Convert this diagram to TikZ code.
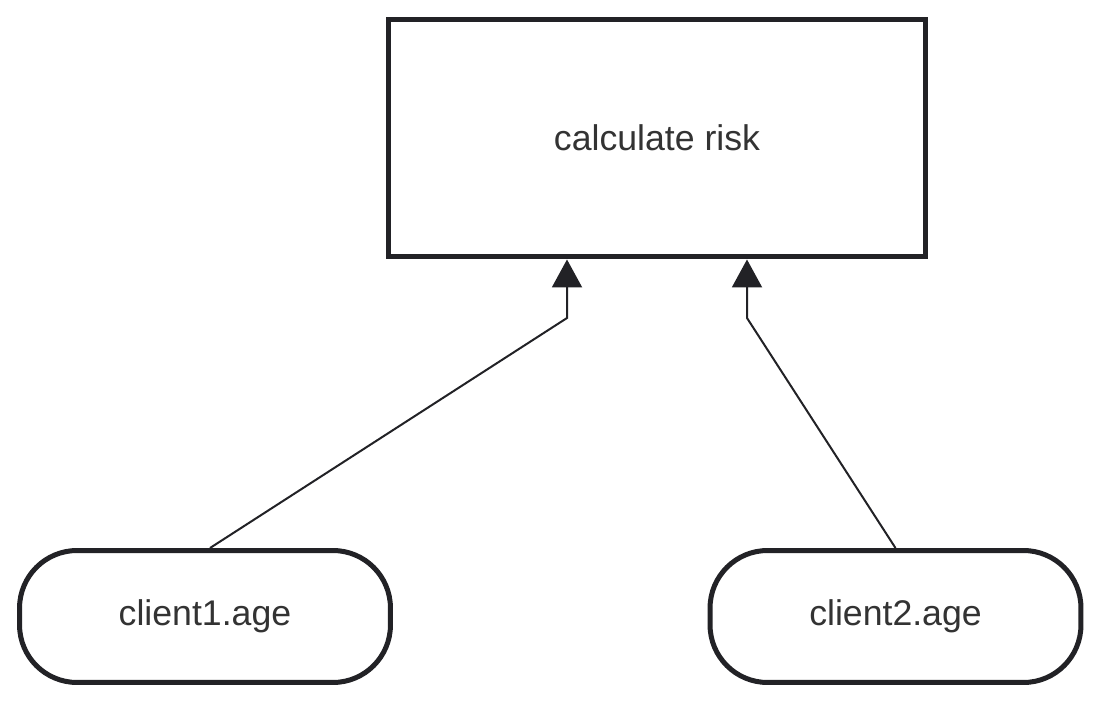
\documentclass[tikz,border=0pt]{standalone}
\usepackage{fontspec}
\setmainfont{Liberation Sans}
\usepackage{xcolor}
\usetikzlibrary{arrows.meta, positioning}
\definecolor{riskink}{HTML}{222226}
\definecolor{risktext}{HTML}{333333}

\begin{document}
\begin{tikzpicture}[
        x=0.02cm, y=-0.02cm,
        box/.style={
            rectangle,
            draw=riskink,
            line width=0.1cm,
            fill=white,
            text=risktext,
            font=\fontsize{20.3}{24}\selectfont,
            minimum width=10.76cm,
            minimum height=4.76cm
        },
        term/.style={
            rectangle,
            rounded corners=1.15cm,
            draw=riskink,
            line width=0.1cm,
            fill=white,
            text=risktext,
            font=\fontsize{20.3}{24}\selectfont,
            minimum width=7.42cm,
            minimum height=2.64cm
        },
        arrow/.style={-{Triangle[length=0.56cm, width=0.6cm]}, line width=0.04cm, draw=riskink, line join=miter}
    ]
        \useasboundingbox (0,0) rectangle (1101,702);
        \node[box] (risk) at (657,138) {calculate risk};
        \node[term] (age1) at (205,616.5) {client1.age};
        \node[term] (age2) at (895.5,616.5) {client2.age};

        \coordinate (k1) at (567,318);
        \coordinate (k2) at (747,318);

        \draw[arrow] ([xshift=0.1cm]age1.north) -- (k1) -- (k1 |- risk.south);
        \draw[arrow] (age2.north) -- (k2) -- (k2 |- risk.south);
    \end{tikzpicture}
\end{document}
